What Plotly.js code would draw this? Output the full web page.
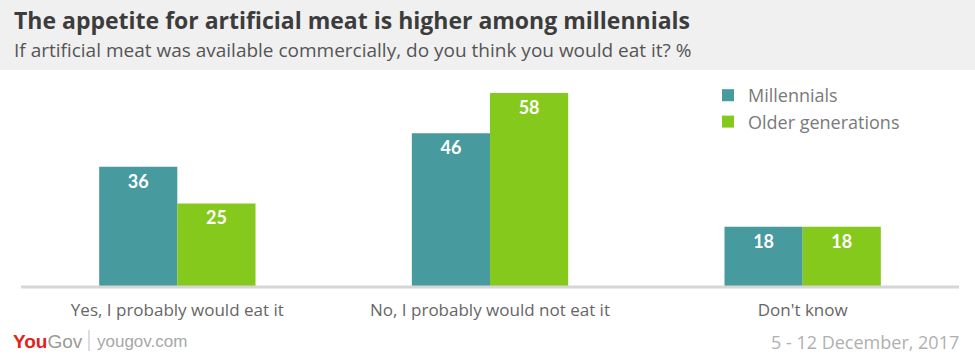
<!DOCTYPE html>
<html>
<head>
<meta charset="utf-8">
<script src="https://cdn.plot.ly/plotly-3.0.1.min.js"></script>
<style>html,body{margin:0;padding:0;background:#fff;}#chart{width:975px;height:360px;}</style>
</head>
<body>
<div id="chart"></div>
<script>
var categories = ["Yes, I probably would eat it", "No, I probably would not eat it", "Don't know"];
var millennials = [36, 46, 18];
var older = [25, 58, 18];
var seriesNames = ["Millennials", "Older generations"];

var W = 975, H = 360, L = 21, R = 16, T = 72, B = 73;
var pw = W - L - R, ph = H - T - B;
function px(x) { return (x - L) / pw; }
function py(y) { return (H - B - y) / ph; }

var fontFam = "Lato, 'Open Sans', sans-serif";
var wideFam = "'Open Sans', Lato, sans-serif";

var traces = [
  {type: "bar", name: seriesNames[0], x: categories, y: millennials,
   marker: {color: "#479a9e"}, text: millennials.map(String), textposition: "inside",
   insidetextanchor: "end", textangle: 0,
   textfont: {color: "#ffffff", size: 18, family: fontFam, weight: "bold"},
   hoverinfo: "none"},
  {type: "bar", name: seriesNames[1], x: categories, y: older,
   marker: {color: "#85c91c"}, text: older.map(String), textposition: "inside",
   insidetextanchor: "end", textangle: 0,
   textfont: {color: "#ffffff", size: 18, family: fontFam, weight: "bold"},
   hoverinfo: "none"}
];

var layout = {
  width: W, height: H,
  margin: {l: L, r: R, t: T, b: B, pad: 0},
  paper_bgcolor: "#ffffff", plot_bgcolor: "#ffffff",
  barmode: "group", bargap: 0.5, bargroupgap: 0,
  showlegend: true,
  legend: {x: px(708), y: py(77), xanchor: "left", yanchor: "top",
           font: {family: wideFam, size: 18, color: "#7a7a7a"},
           bgcolor: "rgba(0,0,0,0)", tracegroupgap: 4, itemwidth: 30},
  xaxis: {type: "category", showgrid: false, zeroline: false, showline: false,
          ticks: "", ticklabelstandoff: 11,
          tickfont: {family: wideFam, size: 17, color: "#666666"}, fixedrange: true},
  yaxis: {range: [0, 64.3], visible: false, fixedrange: true},
  shapes: [
    {type: "rect", xref: "paper", yref: "paper", x0: px(0), x1: px(W), y0: py(70), y1: py(0),
     fillcolor: "#f0f0f0", line: {width: 0}, layer: "below"},
    {type: "line", xref: "paper", yref: "paper", x0: px(21), x1: px(959), y0: py(287), y1: py(287),
     line: {color: "#d6d6d6", width: 3}, layer: "above"},
    {type: "line", xref: "paper", yref: "paper", x0: px(89), x1: px(89), y0: py(330), y1: py(351),
     line: {color: "#bbbbbb", width: 1}}
  ],
  annotations: [
    {xref: "paper", yref: "paper", x: px(12), y: py(20), xanchor: "left", yanchor: "middle",
     text: "<b>The appetite for artificial meat is higher among millennials</b>", showarrow: false,
     font: {family: wideFam, size: 23, color: "#3c3c3c"}},
    {xref: "paper", yref: "paper", x: px(12), y: py(50), xanchor: "left", yanchor: "middle",
     text: "If artificial meat was available commercially, do you think you would eat it? %", showarrow: false,
     font: {family: wideFam, size: 19, color: "#555555"}},
    {xref: "paper", yref: "paper", x: px(11), y: py(341), xanchor: "left", yanchor: "middle",
     text: "<span style='color:#e2231a'><b>You</b></span><span style='color:#9a9a9a'>Gov</span>", showarrow: false,
     font: {family: "'Liberation Sans Narrow', 'Liberation Sans', sans-serif", size: 19, color: "#9a9a9a"}},
    {xref: "paper", yref: "paper", x: px(95), y: py(341), xanchor: "left", yanchor: "middle",
     text: "yougov.com", showarrow: false,
     font: {family: "'Liberation Sans Narrow', 'Liberation Sans', sans-serif", size: 17, color: "#a8a8a8"}},
    {xref: "paper", yref: "paper", x: px(961), y: py(342), xanchor: "right", yanchor: "middle",
     text: "5 - 12 December, 2017", showarrow: false,
     font: {family: wideFam, size: 18, color: "#b0b0b0"}}
  ]
};

Plotly.newPlot("chart", traces, layout, {displayModeBar: false, staticPlot: true});
</script>
</body>
</html>
